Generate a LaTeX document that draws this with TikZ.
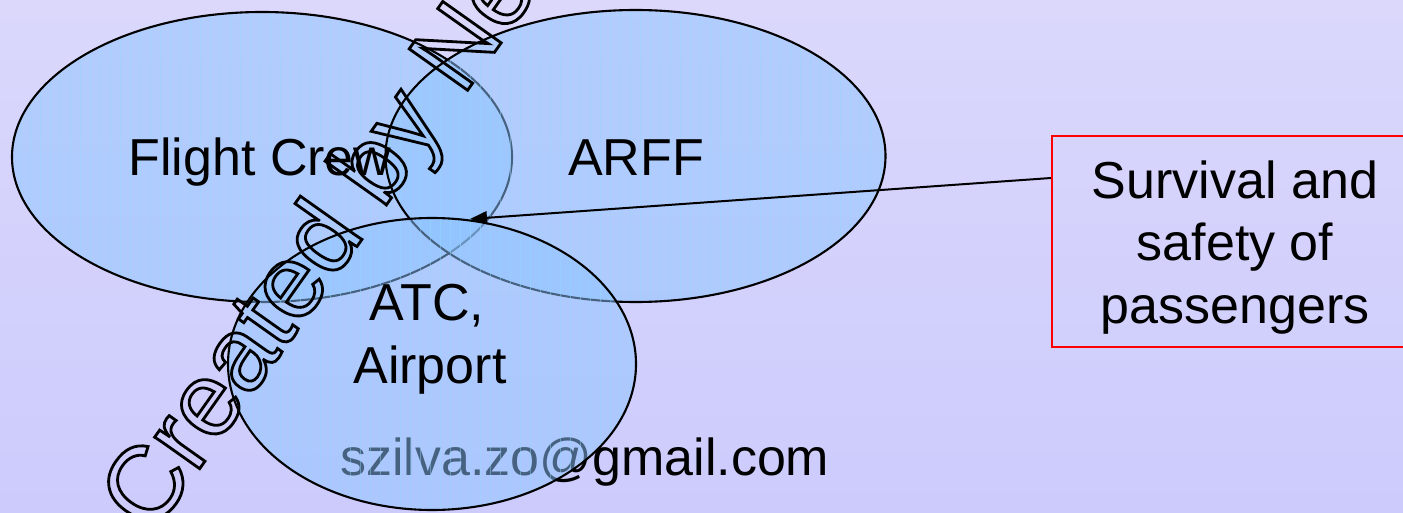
\documentclass[tikz,border=0pt]{standalone}
\usepackage{fontspec}
\setmainfont{Liberation Sans}
\usetikzlibrary{arrows.meta,calc}

\definecolor{bgtop}{RGB}{219,216,252}
\definecolor{bgbot}{RGB}{204,203,252}
\definecolor{setfill}{RGB}{140,196,255}
\definecolor{setgrid}{RGB}{150,215,255}
\definecolor{boxred}{RGB}{255,0,0}

% stroked (hollow) glyphs via the PDF text rendering mode
\newcommand\hollowtext[1]{\special{pdf:literal direct 1 Tr 2.8 w}#1\special{pdf:literal direct 0 Tr}}

% one set of the diagram: translucent fill, faint grid, outline
\newcommand\drawset[3]{%
  \path[setfillstyle] (#1) ellipse [x radius=#2, y radius=#3];
  \begin{scope}
    \clip (#1) ellipse [x radius=#2, y radius=#3];
    \draw[gridline] ($(#1)+(-#2,-#3)$) grid [step=10] ($(#1)+(#2,#3)$);
  \end{scope}
  \draw[setline] (#1) ellipse [x radius=#2, y radius=#3];
}

\begin{document}
\begin{tikzpicture}[x=1pt,y=-1pt,
  setfillstyle/.style={fill=setfill, fill opacity=0.5},
  setline/.style={draw=black, line width=2.1pt},
  gridline/.style={draw=setgrid, line width=0.6pt, opacity=0.45},
  lbl/.style={font=\fontsize{52}{62}\selectfont, inner sep=0pt, anchor=base},
  stamp/.style={font=\fontsize{104}{104}\selectfont, inner sep=0pt, anchor=base west, rotate=54.7},
  pointer/.style={draw=black, line width=2pt, -{Triangle[length=17pt,width=13pt]}},
  goalframe/.style={draw=boxred, line width=2pt, inner sep=0pt, minimum width=366pt, minimum height=211pt}]
\useasboundingbox (0,0) rectangle (1403,513);
\clip (0,0) rectangle (1403,513);
\shade[top color=bgtop, bottom color=bgbot] (0,0) rectangle (1403,513);

\coordinate (crew) at (262,157);
\coordinate (arff) at (635.5,156);
\coordinate (atc) at (432,364);

\drawset{crew}{250}{145}
\drawset{arff}{250}{146}

% e-mail line lies partly beneath the third set
\node[lbl, anchor=base west] (mail) at (340,475) {szilva.zo@gmail.com};

\drawset{atc}{204}{146}

\node[lbl] (crewlbl) at (260,176) {Flight Crew};
\node[lbl] (arfflbl) at (636,176) {ARFF};
\node[lbl] (atclbl) at (427,320) {ATC,};
\node[lbl] (airportlbl) at (430,383) {Airport};

\node[goalframe] (goal) at (1235,241.5) {};
\node[lbl] (goal1) at (1235,199) {Survival and};
\node[lbl] (goal2) at (1235,260) {safety of};
\node[lbl] (goal3) at (1235,323) {passengers};

\coordinate (tail) at (goal.west |- 0,178);
\coordinate (meet) at (470,219);
\draw[pointer] (tail) -- (meet);

\node[stamp] (mark) at (152,536) {\hollowtext{Created by Neevia}};
\end{tikzpicture}
\end{document}
